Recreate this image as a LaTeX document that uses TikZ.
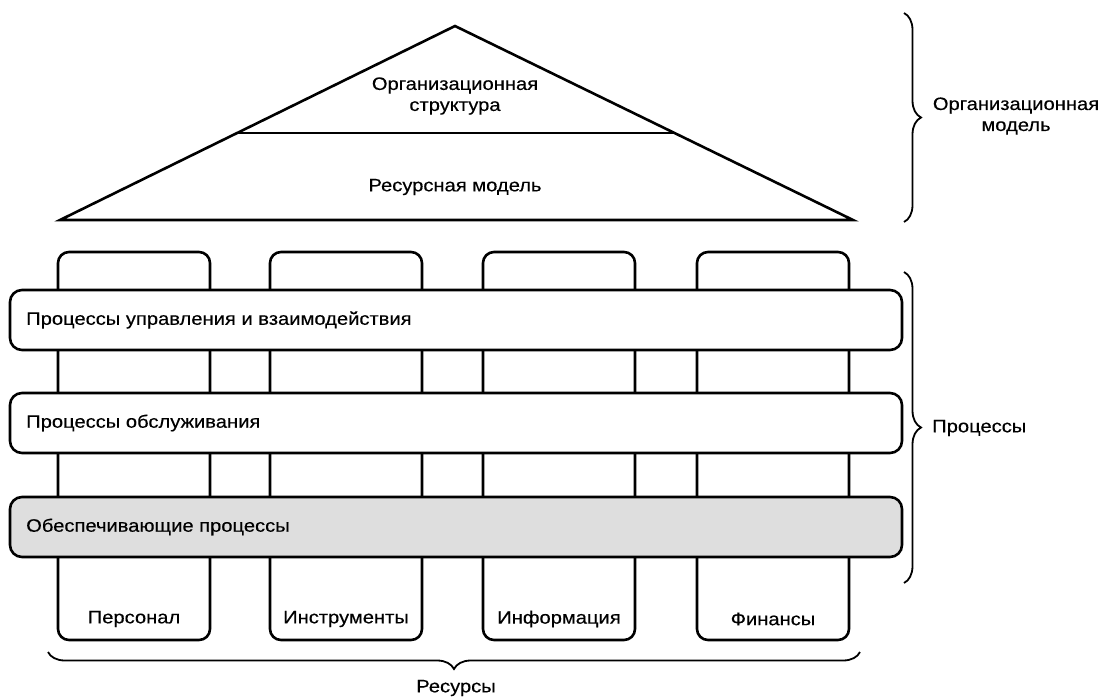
\documentclass[tikz,border=0pt]{standalone}
\usepackage{fontspec}
\setmainfont{Liberation Sans}[FakeStretch=1.12, FakeBold=0.3]
\usetikzlibrary{decorations.pathreplacing}
\begin{document}
\begin{tikzpicture}[x=1pt,y=-1pt,
  thick line/.style={line width=2.6pt},
  pillar/.style={thick line, rounded corners=11pt, fill=white},
  bar/.style={thick line, rounded corners=12pt, fill=white},
  txt/.style={font=\fontsize{18}{21}\selectfont, inner sep=0pt},
  curly/.style={decorate, decoration={brace, amplitude=17pt}, line width=1.8pt}]
\useasboundingbox (0,0) rectangle (1103,699);
% roof
\draw[thick line, line join=miter] (60,220) -- (455,26) -- (853,220) -- cycle;
\draw[thick line] (237,133) -- (674,133);
\node[txt, align=center] (org) at (455,96) {Организационная\\структура};
\node[txt] (res) at (455,187) {Ресурсная модель};
% pillars
\foreach \x/\n/\t in {58/p1/Персонал, 270/p2/Инструменты, 483/p3/Информация, 697/p4/Финансы}{
  \draw[pillar] (\x,252) rectangle ++(152,388);
  \node[txt] (\n) at (\x+76,619) {\t};
}
% bars
\draw[bar] (10,290) rectangle (902,350);
\node[txt, anchor=west] (b1) at (26,320) {Процессы управления и взаимодействия};
\draw[bar] (10,393) rectangle (902,453);
\node[txt, anchor=west] (b2) at (26,423) {Процессы обслуживания};
\draw[bar, fill=black!13] (10,497) rectangle (902,557);
\node[txt, anchor=west] (b3) at (26,527) {Обеспечивающие процессы};
% braces
\coordinate (a1) at (904,13); \coordinate (a2) at (904,222);
\draw[curly] (a1) -- (a2);
\node[txt, align=center] (om) at (1016,116) {Организационная\\модель};
\coordinate (c1) at (904,272); \coordinate (c2) at (904,583);
\draw[curly] (c1) -- (c2);
\node[txt, anchor=west] (pr) at (932,428) {Процессы};
\coordinate (d1) at (860,652); \coordinate (d2) at (48,652);
\draw[curly] (d1) -- (d2);
\node[txt] (rs) at (456,688) {Ресурсы};
\end{tikzpicture}
\end{document}
